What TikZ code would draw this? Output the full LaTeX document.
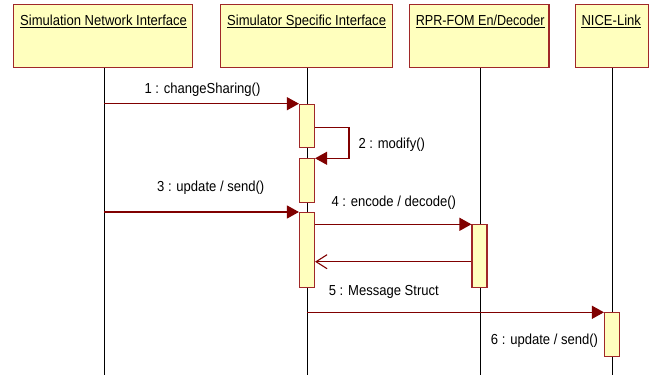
\documentclass[tikz,border=0pt]{standalone}
\usepackage{fontspec}
\setmainfont{Liberation Sans}[FakeStretch=0.9]
\usetikzlibrary{arrows.meta}
\definecolor{boxfill}{RGB}{255,255,190}
\definecolor{boxline}{RGB}{160,40,40}
\definecolor{msgline}{RGB}{128,0,0}
\tikzset{
  hdr/.style={draw=boxline, fill=boxfill, line width=1.2pt, inner sep=0pt},
  hdrtext/.style={inner sep=0pt, anchor=base west, font=\fontsize{14.5}{16}\selectfont},
  act/.style={draw=boxline, fill=boxfill, line width=1.1pt, inner sep=0pt, minimum width=15pt, anchor=north},
  life/.style={draw=black, line width=0.8pt},
  msg/.style={draw=msgline, line width=1.1pt, -{Triangle[length=12pt,width=13pt]}},
  ret/.style={draw=msgline, line width=1.1pt, -{Straight Barb[length=11pt,width=14pt,line width=1.1pt]}},
  lbl/.style={inner sep=0pt, font=\fontsize{14.5}{16}\selectfont},
}
\begin{document}
\begin{tikzpicture}[x=1pt,y=-1pt]
\useasboundingbox (0,0) rectangle (658,378);
% header boxes
\node[hdr, minimum width=179pt, minimum height=63pt] (h1) at (103,36.2) {};
\node[hdr, minimum width=172pt, minimum height=63pt] (h2) at (306.7,36.2) {};
\node[hdr, minimum width=139.7pt, minimum height=63pt] (h3) at (479.2,36.2) {};
\node[hdr, minimum width=73pt, minimum height=63pt] (h4) at (611.8,36.2) {};
% header texts
\node[hdrtext] (t1) at (20,25.3) {Simulation Network Interface};
\node[hdrtext] (t2) at (227,25.3) {Simulator Specific Interface};
\node[hdrtext] (t3) at (415.7,25.3) {\scalebox{0.965}[1]{RPR-FOM En/Decoder}};
\node[hdrtext] (t4) at (581.3,25.3) {NICE-Link};
\foreach \t in {t1,t2,t3,t4}
  \draw[line width=0.9pt] ([yshift=-2pt]\t.base west) -- ([yshift=-2pt]\t.base east);
% lifelines
\coordinate (e1) at (104,375);
\coordinate (e2) at (307,375);
\coordinate (e3) at (480,375);
\coordinate (e4) at (612.7,375);
\draw[life] (h1.south -| e1) -- (e1);
\draw[life] (h2.south -| e2) -- (e2);
\draw[life] (h3.south -| e3) -- (e3);
\draw[life] (h4.south -| e4) -- (e4);
% activations
\node[act, minimum height=43.6pt] (a1) at (307,103.7) {};
\node[act, minimum height=44pt] (a2) at (307,158.3) {};
\node[act, minimum height=75pt] (a3) at (307,212) {};
\node[act, minimum height=62.7pt] (a4) at (479.5,224.3) {};
\node[act, minimum height=43.4pt] (a5) at (612,312.3) {};
% messages
\coordinate (s1) at (104,103.7);
\coordinate (s3) at (104,212);
\coordinate (s5) at (307,312.3);
\coordinate (loop) at (349,127.3);
\draw[msg] (s1) -- (a1.north west);
\draw[msg] (a1.east |- loop) -- (loop) |- (a2.north east);
\draw[msg] (s3) -- (a3.north west);
\draw[msg] (a3.east |- a4.north) -- (a4.north west);
\coordinate (r) at (479.5,261.7);
\draw[ret] (a4.west |- r) -- (a3.east |- r);
\draw[msg] (s5) -- (a5.north west);
% labels
\node[lbl, anchor=base] (l1) at (202.5,93.3) {1 : changeSharing()};
\node[lbl, anchor=base west] (l2) at (358.3,148.3) {2 : modify()};
\node[lbl, anchor=base] (l3) at (210.7,191.7) {3 : update / send()};
\node[lbl, anchor=base] (l4) at (393.8,206.7) {4 : encode / decode()};
\node[lbl, anchor=base] (l5) at (383.8,295) {5 : Message Struct};
\node[lbl, anchor=base east] (l6) at (598.3,344) {6 : update / send()};
\end{tikzpicture}
\end{document}
